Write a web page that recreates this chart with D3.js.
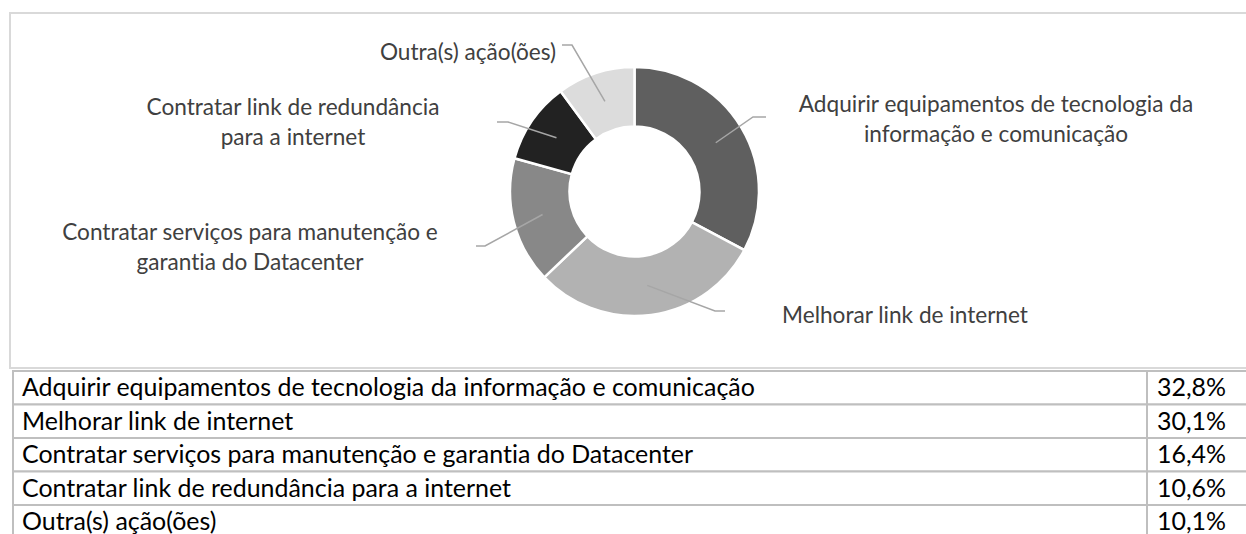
<!DOCTYPE html>
<html>
<head>
<meta charset="utf-8">
<script src="https://cdn.jsdelivr.net/npm/d3@7"></script>
<style>
  body { margin: 0; background: #fff; }
  text { font-family: Lato, "Open Sans", sans-serif; font-variant-ligatures: none; }
</style>
</head>
<body>
<script>
// categories and shares (percent)
var categories = [
  "Adquirir equipamentos de tecnologia da informação e comunicação",
  "Melhorar link de internet",
  "Contratar serviços para manutenção e garantia do Datacenter",
  "Contratar link de redundância para a internet",
  "Outra(s) ação(ões)"
];
var values = [32.8, 30.1, 16.4, 10.6, 10.1];
// labels as broken in the chart
var labelLines = [
  ["Adquirir equipamentos de tecnologia da", "informação e comunicação"],
  ["Melhorar link de internet"],
  ["Contratar serviços para manutenção e", "garantia do Datacenter"],
  ["Contratar link de redundância", "para a internet"],
  ["Outra(s) ação(ões)"]
];
var sliceColors = ["#5f5f5f", "#b2b2b2", "#888888", "#222222", "#dcdcdc"];

// label placement: text centre, first line y, elbow point, horizontal end
var labelLayout = [
  { x: 996, y: 104, elbow: [753, 117], end: [766, 117] },
  { x: 905, y: 315, elbow: [715, 311], end: [725, 311] },
  { x: 250, y: 232, elbow: [485, 246], end: [476, 246] },
  { x: 293, y: 107, elbow: [508, 122], end: [497, 122] },
  { x: 468, y: 52,  elbow: [572, 45],  end: [562, 45] }
];

var W = 1246, H = 534;
var cx = 634.5, cy = 191.5, rOut = 124.5, rIn = 65;

var svg = d3.select("body").append("svg")
  .attr("width", W)
  .attr("height", H);

// chart frame
svg.append("rect")
  .attr("x", 10).attr("y", 13)
  .attr("width", 1250).attr("height", 355)
  .attr("fill", "#fff")
  .attr("stroke", "#d9d9d9")
  .attr("stroke-width", 2);

var data = categories.map(function(c, i) {
  return { name: c, value: values[i], lines: labelLines[i], color: sliceColors[i], lay: labelLayout[i] };
});

var pie = d3.pie().sort(null).value(d => d.value);
var arc = d3.arc().innerRadius(rIn).outerRadius(rOut);
var arcs = pie(data);

var g = svg.append("g").attr("transform", `translate(${cx},${cy})`);

g.selectAll("path")
  .data(arcs)
  .enter()
  .append("path")
  .attr("d", arc)
  .attr("fill", d => d.data.color)
  .attr("stroke", "#fff")
  .attr("stroke-width", 2.5);

// leader lines
g.selectAll("polyline")
  .data(arcs)
  .enter()
  .append("polyline")
  .attr("points", function(d) {
    var c = arc.centroid(d);
    var e = d.data.lay.elbow, f = d.data.lay.end;
    return [c, [e[0] - cx, e[1] - cy], [f[0] - cx, f[1] - cy]].map(p => p.join(",")).join(" ");
  })
  .attr("fill", "none")
  .attr("stroke", "#a6a6a6")
  .attr("stroke-width", 1.5);

// fit a font size to a target width
function fitSize(str, target) {
  var t = svg.append("text").style("font-size", "20px").text(str);
  var w = t.node().getComputedTextLength();
  t.remove();
  return 20 * target / w;
}

var labelSize = fitSize("Melhorar link de internet", 246);

var labels = svg.append("g").selectAll("text")
  .data(data)
  .enter()
  .append("text")
  .attr("text-anchor", "middle")
  .attr("fill", "#404040")
  .style("font-size", labelSize + "px");

labels.selectAll("tspan")
  .data(d => d.lines.map((l, i) => ({ l: l, i: i, lay: d.lay })))
  .enter()
  .append("tspan")
  .attr("x", d => d.lay.x)
  .attr("y", d => d.lay.y + d.i * 30)
  .attr("dy", "0.35em")
  .text(d => d.l);

// table below
var tableTop = 371, rowH = 33.5, tableLeft = 13, divX = 1147;
var tableSize = fitSize(categories[0], 733);
var fmt = v => v.toFixed(1).replace(".", ",") + "%";

var rows = svg.append("g").selectAll("g")
  .data(data)
  .enter()
  .append("g")
  .attr("transform", (d, i) => `translate(0,${tableTop + i * rowH})`);

rows.append("rect")
  .attr("x", tableLeft)
  .attr("width", 1260)
  .attr("height", rowH)
  .attr("fill", "#fff")
  .attr("stroke", "#bfbfbf")
  .attr("stroke-width", 2);

rows.append("line")
  .attr("x1", divX).attr("x2", divX)
  .attr("y1", 0).attr("y2", rowH)
  .attr("stroke", "#bfbfbf")
  .attr("stroke-width", 2);

rows.append("text")
  .attr("x", 22)
  .attr("y", rowH / 2)
  .attr("dy", "0.35em")
  .attr("fill", "#000")
  .style("font-size", tableSize + "px")
  .text(d => d.name);

rows.append("text")
  .attr("x", 1157)
  .attr("y", rowH / 2)
  .attr("dy", "0.35em")
  .attr("fill", "#000")
  .style("font-size", tableSize + "px")
  .text(d => fmt(d.value));
</script>
</body>
</html>
